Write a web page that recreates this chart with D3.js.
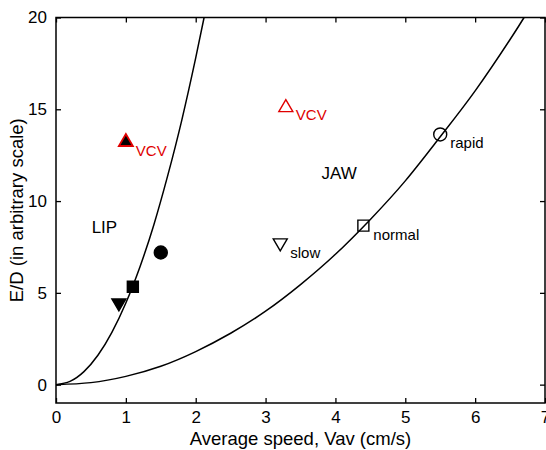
<!DOCTYPE html>
<html><head><meta charset="utf-8">
<script src="https://cdn.jsdelivr.net/npm/d3@7"></script>
<style>body{margin:0;background:#fff}svg{display:block}text{font-family:"Liberation Sans",Arial,sans-serif}</style>
</head><body><svg id="c" width="546" height="450"></svg>
<script>
// Curves
const lipX = [0, 0.2, 0.4, 0.6, 0.8, 1.0, 1.2, 1.4, 1.6, 1.8, 2.0, 2.12];
const lipY = [0, 0.18, 0.71, 1.6, 2.85, 4.45, 6.4, 8.7, 11.4, 14.4, 17.8, 20];
const jawX = [0, 0.5, 1, 1.5, 2, 2.5, 3, 3.5, 4, 4.5, 5, 5.5, 6, 6.5, 6.7];
const jawY = [0, 0.11, 0.45, 1.0, 1.8, 2.8, 4.0, 5.45, 7.1, 9.0, 11.1, 13.5, 16.0, 18.8, 20.0];
// Markers
const lipPtX = [1.0, 1.5, 1.1, 0.9];
const lipPtY = [13.3, 7.2, 5.33, 4.37];
const lipPtShape = ["up", "circle", "square", "down"];
const lipPtLabel = ["VCV", "", "", ""];
const jawPtX = [3.29, 5.5, 4.4, 3.21];
const jawPtY = [15.17, 13.63, 8.66, 7.64];
const jawPtShape = ["up", "circle", "square", "down"];
const jawPtLabel = ["VCV", "rapid", "normal", "slow"];
const regionText = ["LIP", "JAW"];
const regionX = [0.51, 3.80];
const regionY = [8.24, 11.2];
const xTicks = [0, 1, 2, 3, 4, 5, 6, 7];
const yTicks = [0, 5, 10, 15, 20];

const svg = d3.select("#c");
const L = 56, R = 545, T = 17.5, B = 403;
const x = d3.scaleLinear().domain([0, 7]).range([L, R]);
const y = d3.scaleLinear().domain([-1, 20]).range([B, T]);

svg.append("defs").append("clipPath").attr("id", "clip")
  .append("rect").attr("x", L).attr("y", T).attr("width", R - L).attr("height", B - T);

// axes with inward ticks
const tickLen = 5;
svg.append("g").attr("transform", `translate(0,${B})`)
  .call(d3.axisBottom(x).tickValues(xTicks).tickSizeInner(-tickLen).tickSizeOuter(0).tickPadding(8).tickFormat(d3.format("d")));
svg.append("g").attr("transform", `translate(0,${T})`)
  .call(d3.axisTop(x).tickValues(xTicks).tickSizeInner(-tickLen).tickSizeOuter(0).tickFormat(""));
svg.append("g").attr("transform", `translate(${L},0)`)
  .call(d3.axisLeft(y).tickValues(yTicks).tickSizeInner(-tickLen).tickSizeOuter(0).tickPadding(9).tickFormat(d3.format("d")));
svg.append("g").attr("transform", `translate(${R},0)`)
  .call(d3.axisRight(y).tickValues(yTicks).tickSizeInner(-tickLen).tickSizeOuter(0).tickFormat(""));
svg.selectAll(".domain").remove();
svg.selectAll(".tick line").attr("stroke", "#000").attr("stroke-width", 1.3);
svg.selectAll(".tick text").attr("font-size", 17).attr("fill", "#000").style("font-family", '"Liberation Sans",Arial,sans-serif');
svg.append("rect").attr("x", L).attr("y", T).attr("width", R - L).attr("height", B - T)
  .attr("fill", "none").attr("stroke", "#000").attr("stroke-width", 1.5);

// curves
const line = d3.line().x(d => x(d[0])).y(d => y(d[1])).curve(d3.curveNatural);
const g = svg.append("g").attr("clip-path", "url(#clip)");
g.append("path").datum(d3.zip(lipX, lipY)).attr("d", line).attr("fill", "none").attr("stroke", "#000").attr("stroke-width", 1.5);
g.append("path").datum(d3.zip(jawX, jawY)).attr("d", line).attr("fill", "none").attr("stroke", "#000").attr("stroke-width", 1.5);

function shapePath(s) {
  if (s === "up") return "M0,-6.5L7,5.5L-7,5.5Z";
  if (s === "down") return "M0,6.5L7,-5.5L-7,-5.5Z";
  if (s === "square") return "M-5.5,-5.5H5.5V5.5H-5.5Z";
  return "M6.5,0A6.5,6.5 0 1,1 -6.5,0A6.5,6.5 0 1,1 6.5,0Z";
}
function drawSet(xs, ys, shapes, labels, filled) {
  xs.forEach((vx, i) => {
    const px = x(vx), py = y(ys[i]);
    const red = labels[i] === "VCV";
    svg.append("path").attr("d", shapePath(shapes[i])).attr("transform", `translate(${px},${py})`)
      .attr("fill", filled ? "#000" : "none")
      .attr("stroke", red ? "#e00000" : "#000").attr("stroke-width", red && filled ? 1.8 : 1.4);
    if (labels[i]) {
      svg.append("text").attr("x", px + 10).attr("y", py + (red && filled ? 16 : 14))
        .attr("font-size", 15).attr("fill", red ? "#e00000" : "#000").text(labels[i]);
    }
  });
}
drawSet(lipPtX, lipPtY, lipPtShape, lipPtLabel, true);
drawSet(jawPtX, jawPtY, jawPtShape, jawPtLabel, false);

regionText.forEach((t, i) => {
  svg.append("text").attr("x", x(regionX[i])).attr("y", y(regionY[i])).attr("font-size", 17).attr("fill", "#000").text(t);
});

svg.append("text").attr("x", (L + R) / 2).attr("y", 445).attr("text-anchor", "middle").attr("font-size", 18.5).text("Average speed, Vav (cm/s)");
svg.append("text").attr("transform", `translate(23,${(T + B) / 2}) rotate(-90)`).attr("text-anchor", "middle").attr("font-size", 18.5).text("E/D (in arbitrary scale)");
</script></body></html>
